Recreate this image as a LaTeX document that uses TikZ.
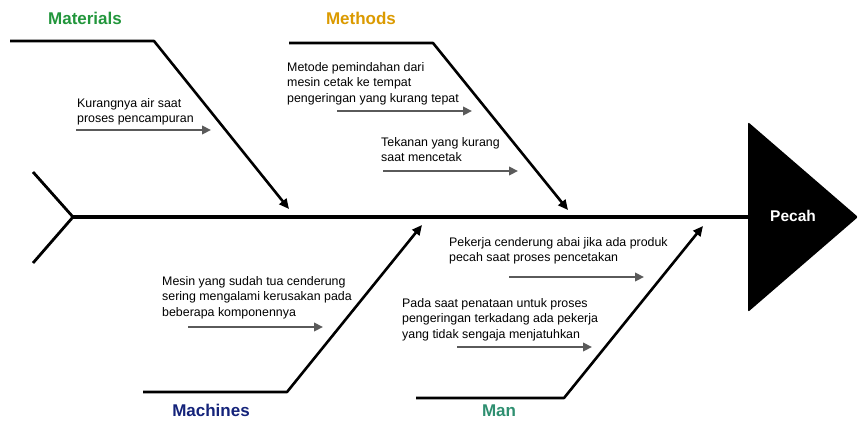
\documentclass[tikz,border=0pt]{standalone}
\usepackage{fontspec}
\setmainfont{Liberation Sans}
\usetikzlibrary{arrows.meta,positioning}
\definecolor{matgreen}{HTML}{22963C}
\definecolor{methorange}{HTML}{DB9A00}
\definecolor{machnavy}{HTML}{14237A}
\definecolor{manteal}{HTML}{2E8F70}
\definecolor{subgray}{HTML}{5A5A5A}

\begin{document}
\begin{tikzpicture}[x=1pt,y=-1pt, line join=round,
  bone/.style={line width=2.6pt, -{Triangle[length=10pt,width=9pt]}},
  cause/.style={font=\bfseries\fontsize{17}{20}\selectfont},
  note/.style={anchor=north west, align=left, inner sep=0pt, font=\fontsize{12.4}{15.8}\selectfont},
  sub/.style={line width=2.3pt, subgray, -{Triangle[length=9pt,width=8.5pt]}}]
\useasboundingbox (0,0) rectangle (858,421);
% spine and head
\coordinate (T1) at (33,172);
\coordinate (T2) at (33,263);
\coordinate (S) at (73,217);
\coordinate (H1) at (748,122);
\coordinate (H2) at (858,217);
\coordinate (H3) at (748,312);
\fill[rounded corners=2pt] (H1)--(H2)--(H3)--cycle;
\draw[line width=4.7pt] (S)--(748,217);
\draw[line width=2.8pt] (T1)--(S)--(T2);
\node[text=white, font=\bfseries\fontsize{15.5}{18}\selectfont] (effect) at (793,216) {Pecah};
% branch points
\coordinate (MatA) at (10,41);   \coordinate (MatB) at (154,41);  \coordinate (MatC) at (289,209);
\coordinate (MetA) at (289,43);  \coordinate (MetB) at (433,43);  \coordinate (MetC) at (568,210);
\coordinate (MacA) at (143,392); \coordinate (MacB) at (287,392); \coordinate (MacC) at (422,225);
\coordinate (ManA) at (416,398); \coordinate (ManB) at (564,398); \coordinate (ManC) at (703,226);
\draw[bone] (MatA)--(MatB)--(MatC);
\draw[bone] (MetA)--(MetB)--(MetC);
\draw[bone] (MacA)--(MacB)--(MacC);
\draw[bone] (ManA)--(ManB)--(ManC);
% category labels
\node[cause, text=matgreen]   (mat) at (85,18)   {Materials};
\node[cause, text=methorange] (met) at (361,18)  {Methods};
\node[cause, text=machnavy]   (mac) at (211,410) {Machines};
\node[cause, text=manteal]    (man) at (499,411) {Man};
% sub-causes
\node[note] (n1) at (77,98)   {Kurangnya air saat\\proses pencampuran};
\node[note] (n2) at (287,62)  {Metode pemindahan dari\\mesin cetak ke tempat\\pengeringan yang kurang tepat};
\node[note] (n3) at (381,137) {Tekanan yang kurang\\saat mencetak};
\node[note] (n4) at (162,276) {Mesin yang sudah tua cenderung\\sering mengalami kerusakan pada\\beberapa komponennya};
\node[note] (n5) at (449,237) {Pekerja cenderung abai jika ada produk\\pecah saat proses pencetakan};
\node[note] (n6) at (402,298) {Pada saat penataan untuk proses\\pengeringan terkadang ada pekerja\\yang tidak sengaja menjatuhkan};
\coordinate (a1) at (76,130);  \coordinate (b1) at (211,130);
\coordinate (a2) at (337,111); \coordinate (b2) at (472,111);
\coordinate (a3) at (383,171); \coordinate (b3) at (518,171);
\coordinate (a4) at (188,327); \coordinate (b4) at (323,327);
\coordinate (a5) at (509,277); \coordinate (b5) at (644,277);
\coordinate (a6) at (457,347); \coordinate (b6) at (592,347);
\foreach \i in {1,...,6} \draw[sub] (a\i)--(b\i);
\end{tikzpicture}
\end{document}
